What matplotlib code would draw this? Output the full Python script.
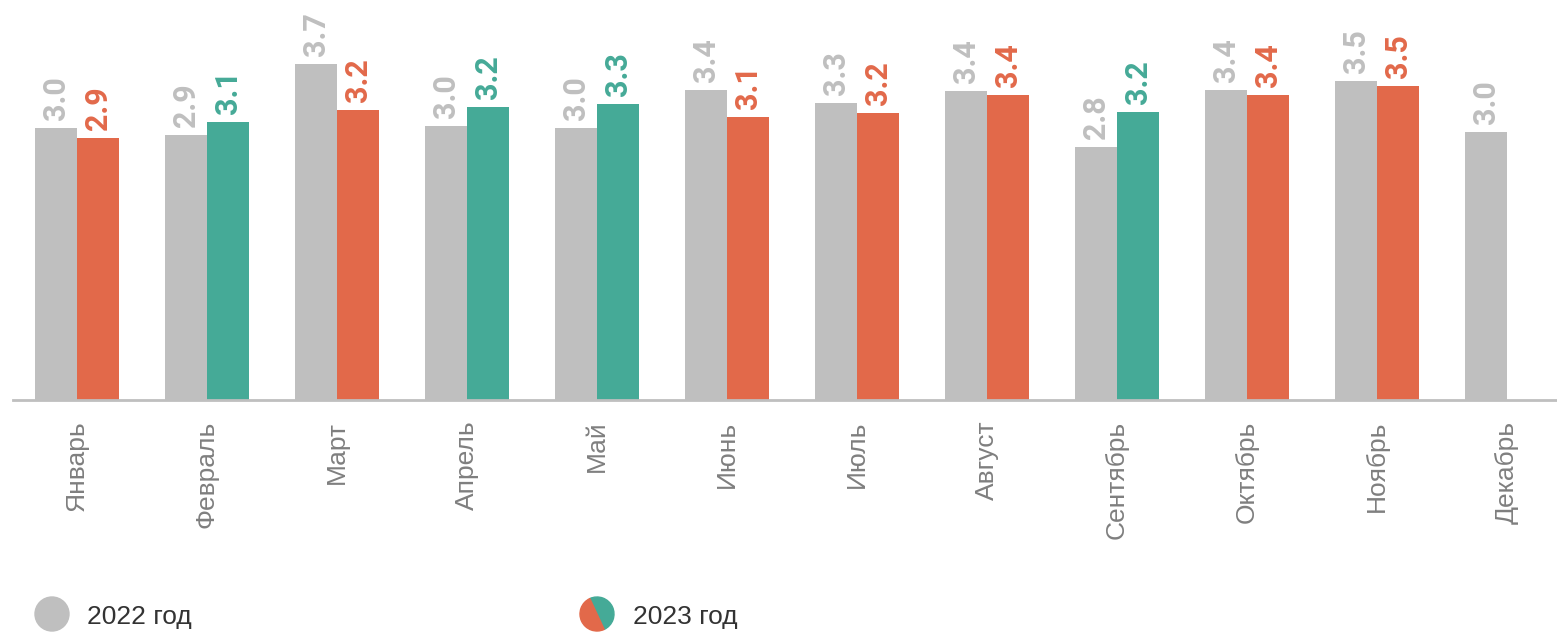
import matplotlib
matplotlib.use("Agg")
import matplotlib.pyplot as plt
from matplotlib.patches import Circle, Wedge
import numpy as np

plt.rcParams["font.family"] = ["Liberation Sans", "DejaVu Sans"]

months = ["Январь", "Февраль", "Март", "Апрель", "Май", "Июнь",
          "Июль", "Август", "Сентябрь", "Октябрь", "Ноябрь", "Декабрь"]
values_2022 = [3.00, 2.92, 3.70, 3.02, 3.00, 3.42, 3.27, 3.41, 2.79, 3.42, 3.52, 2.96]
values_2023 = [2.89, 3.06, 3.20, 3.23, 3.26, 3.12, 3.16, 3.36, 3.18, 3.36, 3.46]
legend_labels = ["2022 год", "2023 год"]

GRAY = "#BFBFBF"
ORANGE = "#E2694A"
GREEN = "#45AA97"

W, H = 1557, 632
fig = plt.figure(figsize=(W / 100, H / 100), dpi=100)

# main axes: baseline at y=400 px, top at y=0, starts at x=13 px
ax = fig.add_axes([13 / W, 1 - 400 / H, (W - 13) / W, 400 / H])
x = np.arange(len(months))
bw = 42 / 130

ax.bar(x - bw / 2, values_2022, width=bw, color=GRAY, zorder=2)
x23 = x[:len(values_2023)]
colors_2023 = [GREEN if v23 > v22 else ORANGE for v22, v23 in zip(values_2022, values_2023)]
ax.bar(x23 + bw / 2, values_2023, width=bw, color=colors_2023, zorder=2)

ax.set_xlim((13 - 77) / 130, (W - 77) / 130)
ax.set_ylim(0, 400 / 90.7)

pad = 8 / 90.7
for xi, v in zip(x, values_2022):
    ax.text(xi - bw / 2, v + pad, f"{v:.1f}", rotation=90, ha="center", va="bottom",
            color=GRAY, fontsize=22, fontfamily="Roboto", fontweight="bold", clip_on=False)
for xi, v, c in zip(x23, values_2023, colors_2023):
    ax.text(xi + bw / 2, v + pad, f"{v:.1f}", rotation=90, ha="center", va="bottom",
            color=c, fontsize=22, fontfamily="Roboto", fontweight="bold", clip_on=False)

for side in ["top", "right", "left"]:
    ax.spines[side].set_visible(False)
ax.spines["bottom"].set_color(GRAY)
ax.spines["bottom"].set_linewidth(2)
ax.set_yticks([])
ax.set_xticks(x)
ax.set_xticklabels(months, rotation=90, fontsize=19, color="#7F7F7F")
ax.tick_params(axis="x", length=0, pad=15)

# legend drawn in pixel coordinates (y axis inverted)
lax = fig.add_axes([0, 0, 1, 1])
lax.set_xlim(0, W)
lax.set_ylim(H, 0)
lax.axis("off")
lax.add_patch(Circle((52, 614), 17, color=GRAY))
lax.add_patch(Wedge((597, 614), 17, -115, 65, color=GREEN))
lax.add_patch(Wedge((597, 614), 17, 65, 245, color=ORANGE))
lax.text(87, 617, legend_labels[0], fontsize=19, color="#333333", va="center")
lax.text(633, 617, legend_labels[1], fontsize=19, color="#333333", va="center")

fig.savefig("out.png", dpi=100)
